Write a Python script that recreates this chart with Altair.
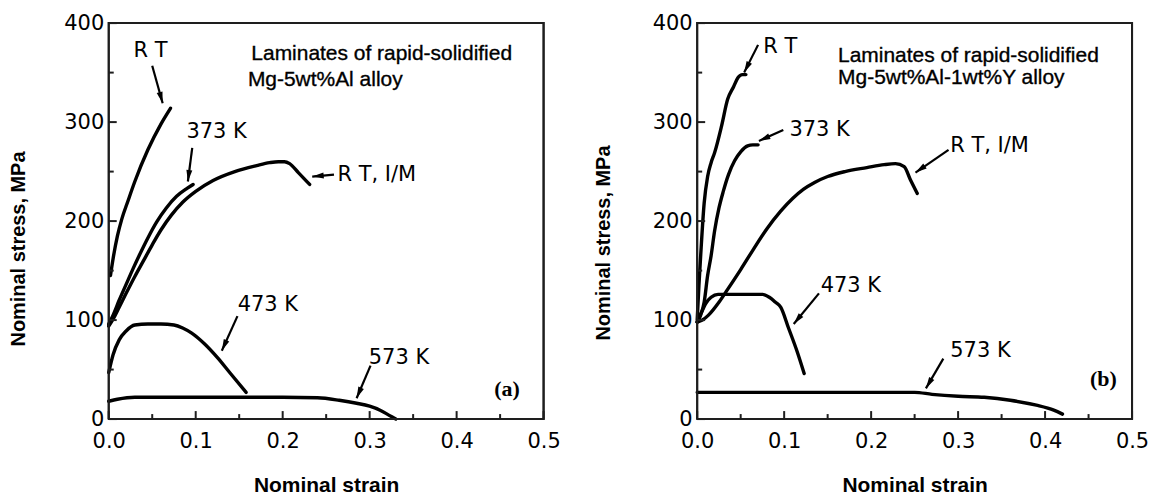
import math
import altair as alt
import pandas as pd

# ---------------- data: panel (a) Mg-5wt%Al ----------------
A_RT_X = [0.002, 0.005, 0.010, 0.015, 0.022, 0.030, 0.045, 0.060, 0.071]
A_RT_Y = [145, 162, 185, 202, 220, 240, 272, 298, 314]
A_373_X = [0.000, 0.005, 0.012, 0.020, 0.028, 0.036, 0.045, 0.055, 0.066, 0.078, 0.090, 0.097]
A_373_Y = [96, 105, 120, 136, 152, 167, 183, 199, 213, 225, 233, 237]
A_IM_X = [0.000, 0.005, 0.012, 0.020, 0.030, 0.040, 0.050, 0.060, 0.072, 0.085, 0.100, 0.120,
          0.145, 0.170, 0.185, 0.195, 0.202, 0.208, 0.218, 0.231]
A_IM_Y = [94, 101, 113, 127, 144, 160, 176, 191, 206, 219, 230, 241, 250, 256, 259, 260, 260, 258, 249, 237]
A_473_X = [0.000, 0.005, 0.012, 0.020, 0.030, 0.045, 0.060, 0.075, 0.085, 0.095, 0.110, 0.125, 0.140, 0.158]
A_473_Y = [47, 65, 80, 89, 95, 96, 96, 95, 92, 87, 76, 62, 46, 27]
A_573_X = [0.000, 0.010, 0.030, 0.080, 0.150, 0.200, 0.240, 0.265, 0.285, 0.300, 0.312, 0.322, 0.330]
A_573_Y = [18, 20, 22, 22, 22, 22, 21.5, 19, 16, 13, 9, 4, 0]

A_LABELS = ["R T", "373 K", "R T, I/M", "473 K", "573 K"]
A_LABEL_X = [0.048, 0.124, 0.263, 0.183, 0.299]
A_LABEL_Y = [372, 290, 247, 115, 62]
A_LABEL_ALIGN = ["center", "center", "left", "center", "left"]
A_ARROW_X1 = [0.050, 0.096, 0.259, 0.148, 0.301]
A_ARROW_Y1 = [357, 274, 247, 104, 54]
A_ARROW_X2 = [0.062, 0.091, 0.234, 0.130, 0.285]
A_ARROW_Y2 = [319, 240, 245, 69, 21]
A_NOTE = ["Laminates of rapid-solidified", "Mg-5wt%Al alloy"]
A_NOTE_X = [0.164, 0.160]
A_NOTE_Y = [369, 343]
A_TAG = "(a)"
A_TAG_X, A_TAG_Y = 0.458, 30

# ---------------- data: panel (b) Mg-5wt%Al-1wt%Y ----------------
B_RT_X = [0.000, 0.002, 0.004, 0.008, 0.012, 0.016, 0.020, 0.028, 0.035, 0.042, 0.047, 0.052, 0.056]
B_RT_Y = [100, 135, 165, 218, 245, 259, 269, 296, 323, 336, 345, 348, 348]
B_373_X = [0.000, 0.004, 0.008, 0.012, 0.016, 0.020, 0.025, 0.030, 0.036, 0.043, 0.050, 0.058, 0.064, 0.070]
B_373_Y = [98, 105, 118, 145, 165, 190, 213, 230, 247, 261, 270, 276, 277, 277]
B_IM_X = [0.000, 0.006, 0.013, 0.025, 0.035, 0.050, 0.065, 0.080, 0.096, 0.110, 0.122, 0.135,
          0.150, 0.170, 0.195, 0.215, 0.228, 0.238, 0.245, 0.253]
B_IM_Y = [98, 100, 105, 118, 131, 151, 172, 192, 210, 223, 232, 239, 245, 250, 254, 257, 258, 255, 242, 228]
B_473_X = [0.000, 0.005, 0.010, 0.016, 0.024, 0.040, 0.060, 0.075, 0.083, 0.090, 0.096, 0.105, 0.115, 0.123]
B_473_Y = [98, 108, 117, 123, 126, 126, 126, 126, 123, 118, 113, 92, 68, 46]
B_573_X = [0.000, 0.100, 0.200, 0.250, 0.270, 0.300, 0.330, 0.360, 0.390, 0.410, 0.420]
B_573_Y = [27, 27, 27, 27, 25, 23, 22, 19, 14, 9, 5]

B_LABELS = ["R T", "373 K", "R T,  I/M", "473 K", "573 K"]
B_LABEL_X = [0.076, 0.106, 0.291, 0.142, 0.291]
B_LABEL_Y = [376, 292, 276, 134, 69]
B_LABEL_ALIGN = ["left", "left", "left", "left", "left"]
B_ARROW_X1 = [0.070, 0.099, 0.289, 0.140, 0.283]
B_ARROW_Y1 = [378, 292, 272, 127, 61]
B_ARROW_X2 = [0.054, 0.071, 0.251, 0.111, 0.263]
B_ARROW_Y2 = [350, 281, 249, 96, 31]
B_NOTE = ["Laminates of rapid-solidified", "Mg-5wt%Al-1wt%Y alloy"]
B_NOTE_X = [0.162, 0.162]
B_NOTE_Y = [367, 345]
B_TAG = "(b)"
B_TAG_X, B_TAG_Y = 0.467, 40

X_TICKS = [0.0, 0.1, 0.2, 0.3, 0.4, 0.5]
X_MINOR = [0.05, 0.15, 0.25, 0.35, 0.45]
Y_TICKS = [0, 100, 200, 300, 400]
Y_MINOR = [50, 150, 250, 350]

X_TITLE = "Nominal strain"
Y_TITLE = "Nominal stress,  MPa"

# ---------------- layout / style ----------------
W, H = 436, 397
XDOM, YDOM = [0, 0.5], [0, 400]
TICK_FONT = "DejaVu Sans"
LW = 3.4
FRAME_COLOR = "#1e1e1e"


def panel(curves, labels, lx, ly, lalign, ax1, ay1, ax2, ay2, note, nx, ny, tag, tx, ty,
          ytitle_x, ytitle_y):
    xs = alt.Scale(domain=XDOM, nice=False, zero=False)
    ys = alt.Scale(domain=YDOM, nice=False, zero=False)
    ux = (XDOM[1] - XDOM[0]) / W   # data units per pixel
    uy = (YDOM[1] - YDOM[0]) / H

    rows = []
    for ci, (cx, cy) in enumerate(curves):
        for i, (a, b) in enumerate(zip(cx, cy)):
            rows.append({"c": ci, "i": i, "x": a, "y": b})
    cdf = pd.DataFrame(rows)

    xaxis = alt.Axis(values=X_TICKS, format=".1f", ticks=False, domain=False, grid=False,
                     labelFont=TICK_FONT, labelFontSize=21, labelColor="black",
                     labelPadding=12, labelFlush=False,
                     title=X_TITLE, titleFont="Liberation Sans", titleFontSize=21,
                     titleFontWeight="bold", titleColor="black",
                     titleBaseline="middle", titleX=W / 2, titleY=67)
    yaxis = alt.Axis(values=Y_TICKS, format="d", ticks=False, domain=False, grid=False,
                     labelFont=TICK_FONT, labelFontSize=21, labelColor="black",
                     labelPadding=5,
                     title=Y_TITLE, titleFont="Liberation Sans", titleFontSize=20,
                     titleFontWeight="bold", titleColor="black",
                     titleX=ytitle_x, titleY=ytitle_y, titleAngle=270, titleBaseline="bottom")

    lines = alt.Chart(cdf).mark_line(color="black", strokeWidth=LW, strokeCap="round",
                                     strokeJoin="round", interpolate="monotone").encode(
        x=alt.X("x:Q", scale=xs, axis=xaxis),
        y=alt.Y("y:Q", scale=ys, axis=yaxis),
        detail="c:N",
        order="i:Q",
    )

    # frame and inward ticks as short polylines
    x0, x1 = XDOM
    y0, y1 = YDOM
    segs = [[(x0, y0), (x1, y0), (x1, y1), (x0, y1), (x0, y0)]]
    segs += [[(v, y0), (v, y0 + 8 * uy)] for v in X_TICKS]
    segs += [[(v, y0), (v, y0 + 5 * uy)] for v in X_MINOR]
    segs += [[(x0, v), (x0 + 8 * ux, v)] for v in Y_TICKS]
    segs += [[(x0, v), (x0 + 5 * ux, v)] for v in Y_MINOR]
    frows = []
    for si, pts in enumerate(segs):
        for k, (a, b) in enumerate(pts):
            frows.append({"s": si, "k": k, "fx": a, "fy": b})
    frame = alt.Chart(pd.DataFrame(frows)).mark_line(color=FRAME_COLOR, strokeWidth=2).encode(
        x=alt.X("fx:Q", scale=xs), y=alt.Y("fy:Q", scale=ys),
        detail="s:N", order="k:Q")

    ldf = pd.DataFrame({"t": labels, "x": lx, "y": ly, "al": lalign})
    texts = []
    for al in ["left", "center"]:
        sub = ldf[ldf.al == al]
        if len(sub):
            texts.append(alt.Chart(sub).mark_text(font=TICK_FONT, fontSize=21, color="black",
                                                  align=al, baseline="middle").encode(
                x=alt.X("x:Q", scale=xs), y=alt.Y("y:Q", scale=ys), text="t:N"))

    ang = []
    for a1, b1, a2, b2 in zip(ax1, ay1, ax2, ay2):
        d = math.degrees(math.atan2((a2 - a1) / ux, (b2 - b1) / uy))
        ang.append(d % 360)
    adf = pd.DataFrame({"x1": ax1, "y1": ay1, "x2": ax2, "y2": ay2, "ang": ang})
    shafts = alt.Chart(adf).mark_rule(color="black", strokeWidth=2.2).encode(
        x=alt.X("x1:Q", scale=xs), y=alt.Y("y1:Q", scale=ys), x2="x2:Q", y2="y2:Q")
    heads = alt.Chart(adf).mark_point(shape="M0,0L0.6,2.3L-0.6,2.3Z", filled=True, opacity=1,
                                      color="black", size=100, strokeWidth=0).encode(
        x=alt.X("x2:Q", scale=xs), y=alt.Y("y2:Q", scale=ys), angle=alt.Angle("ang:Q", scale=None))

    ndf = pd.DataFrame({"t": note, "x": nx, "y": ny})
    notes = alt.Chart(ndf).mark_text(font="Liberation Sans", fontSize=21, color="black",
                                     align="left", baseline="middle", stroke="black",
                                     strokeWidth=0.35).encode(
        x=alt.X("x:Q", scale=xs), y=alt.Y("y:Q", scale=ys), text="t:N")

    tdf = pd.DataFrame({"t": [tag], "x": [tx], "y": [ty]})
    tags = alt.Chart(tdf).mark_text(font="Liberation Serif", fontSize=22, fontWeight="bold",
                                    color="black", align="center", baseline="middle").encode(
        x=alt.X("x:Q", scale=xs), y=alt.Y("y:Q", scale=ys), text="t:N")

    return alt.layer(lines, *texts, shafts, heads, notes, tags, frame).properties(
        width=W, height=H)


pa = panel([(A_RT_X, A_RT_Y), (A_373_X, A_373_Y), (A_IM_X, A_IM_Y), (A_473_X, A_473_Y),
            (A_573_X, A_573_Y)],
           A_LABELS, A_LABEL_X, A_LABEL_Y, A_LABEL_ALIGN,
           A_ARROW_X1, A_ARROW_Y1, A_ARROW_X2, A_ARROW_Y2,
           A_NOTE, A_NOTE_X, A_NOTE_Y, A_TAG, A_TAG_X, A_TAG_Y, -80, 226)
pb = panel([(B_RT_X, B_RT_Y), (B_373_X, B_373_Y), (B_IM_X, B_IM_Y), (B_473_X, B_473_Y),
            (B_573_X, B_573_Y)],
           B_LABELS, B_LABEL_X, B_LABEL_Y, B_LABEL_ALIGN,
           B_ARROW_X1, B_ARROW_Y1, B_ARROW_X2, B_ARROW_Y2,
           B_NOTE, B_NOTE_X, B_NOTE_Y, B_TAG, B_TAG_X, B_TAG_Y, -84, 220)

chart = alt.hconcat(pa, pb, spacing=31).properties(
    padding={"left": 0, "top": 2.5, "right": 0, "bottom": 0},
).configure_view(stroke=FRAME_COLOR, strokeWidth=2)

chart.save("out.html", embed_options={"renderer": "svg", "actions": False})
